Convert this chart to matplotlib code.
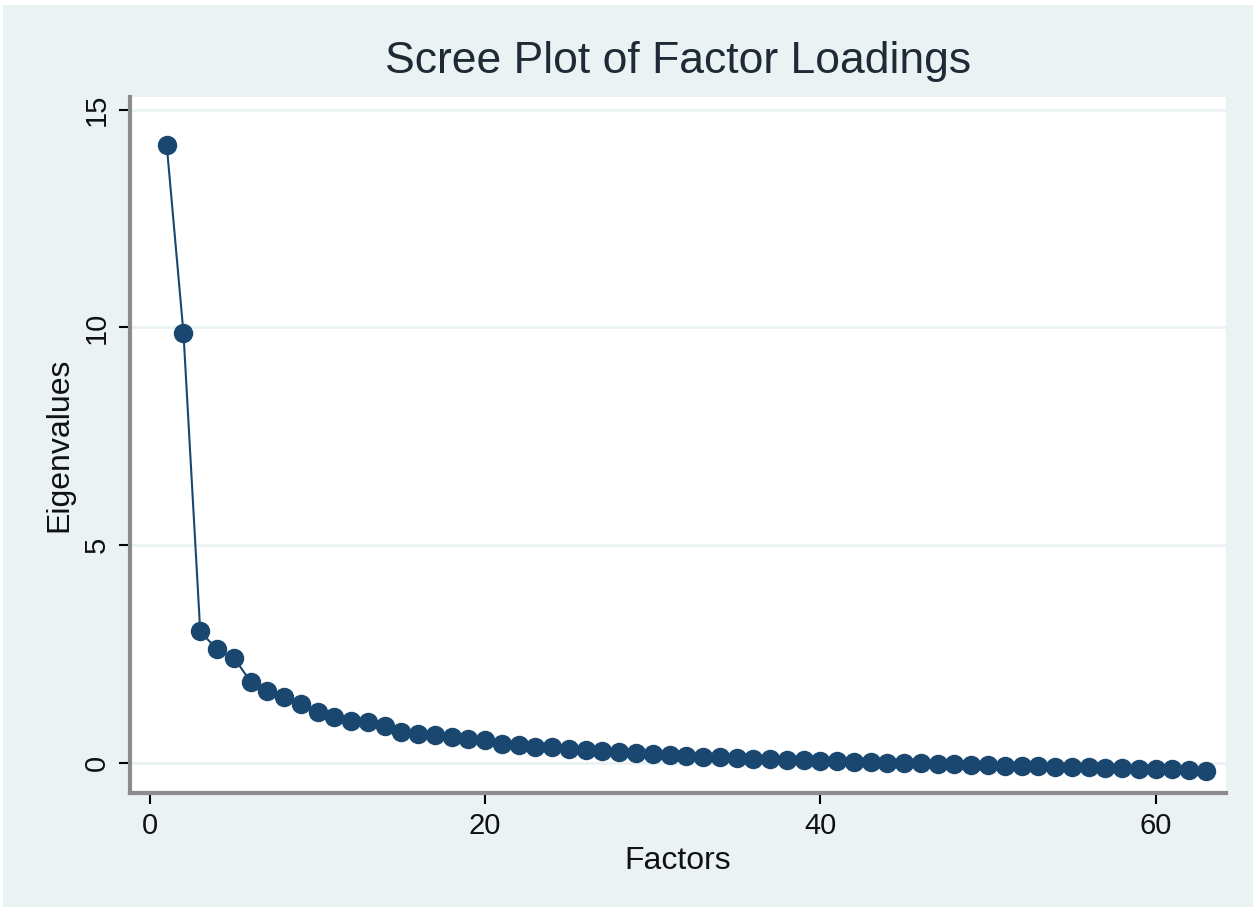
import matplotlib
matplotlib.use("Agg")
import matplotlib.pyplot as plt
from matplotlib.patches import Rectangle

factors = list(range(1, 64))
eigenvalues = [14.19, 9.87, 3.02, 2.61, 2.42, 1.87, 1.65, 1.52, 1.35, 1.18,
               1.06, 0.97, 0.95, 0.85, 0.72, 0.67, 0.64, 0.60, 0.54, 0.53,
               0.44, 0.41, 0.37, 0.36, 0.32, 0.30, 0.27, 0.25, 0.22, 0.20,
               0.18, 0.16, 0.14, 0.13, 0.11, 0.10, 0.08, 0.07, 0.06, 0.05,
               0.04, 0.03, 0.02, 0.01, 0.00, -0.01, -0.02, -0.03, -0.04, -0.05,
               -0.06, -0.07, -0.08, -0.09, -0.09, -0.10, -0.11, -0.12, -0.13, -0.14,
               -0.15, -0.16, -0.18]
xticks = [0, 20, 40, 60]
yticks = [0, 5, 10, 15]
title = "Scree Plot of Factor Loadings"
xlabel = "Factors"
ylabel = "Eigenvalues"

plt.rcParams['font.family'] = ['Liberation Sans', 'DejaVu Sans']

W, H = 1253, 907
fig = plt.figure(figsize=(W / 100, H / 100), dpi=100, facecolor='white')
fig.patches.append(Rectangle((3 / W, 0), 1 - 3 / W, 1 - 5 / H, transform=fig.transFigure,
                             facecolor='#eaf2f3', edgecolor='none', zorder=-10))

ax = fig.add_axes([130 / W, 1 - 793 / H, (1226 - 130) / W, (793 - 97) / H])
ax.set_facecolor('white')

navy = '#1a476f'
for y in yticks:
    ax.axhline(y, color='#eaf2f3', lw=2, zorder=0)
ax.plot(factors, eigenvalues, color=navy, lw=1.5, marker='o', markersize=13,
        markerfacecolor=navy, markeredgecolor=navy, zorder=3)

ax.set_xlim(-1.19, 64.2)
ax.set_ylim(-0.69, 15.29)
ax.set_xticks(xticks)
ax.set_yticks(yticks)
ax.set_yticklabels([str(v) for v in yticks], rotation=90, va='center')
ax.tick_params(axis='both', direction='out', length=8, width=1.5, color='black',
               labelsize=21, labelcolor='#111111', pad=6)

for s in ['top', 'right']:
    ax.spines[s].set_visible(False)
for s in ['left', 'bottom']:
    ax.spines[s].set_color('#8c8c8c')
    ax.spines[s].set_linewidth(3)

ax.set_xlabel(xlabel, fontsize=23, color='#111111', labelpad=4)
ax.set_ylabel(ylabel, fontsize=23, color='#111111', labelpad=6)
fig.text(678 / W, 1 - 62 / H, title, ha='center', va='center', fontsize=32, color='#1e2a36')

fig.savefig('out.png', dpi=100, facecolor=fig.get_facecolor())
